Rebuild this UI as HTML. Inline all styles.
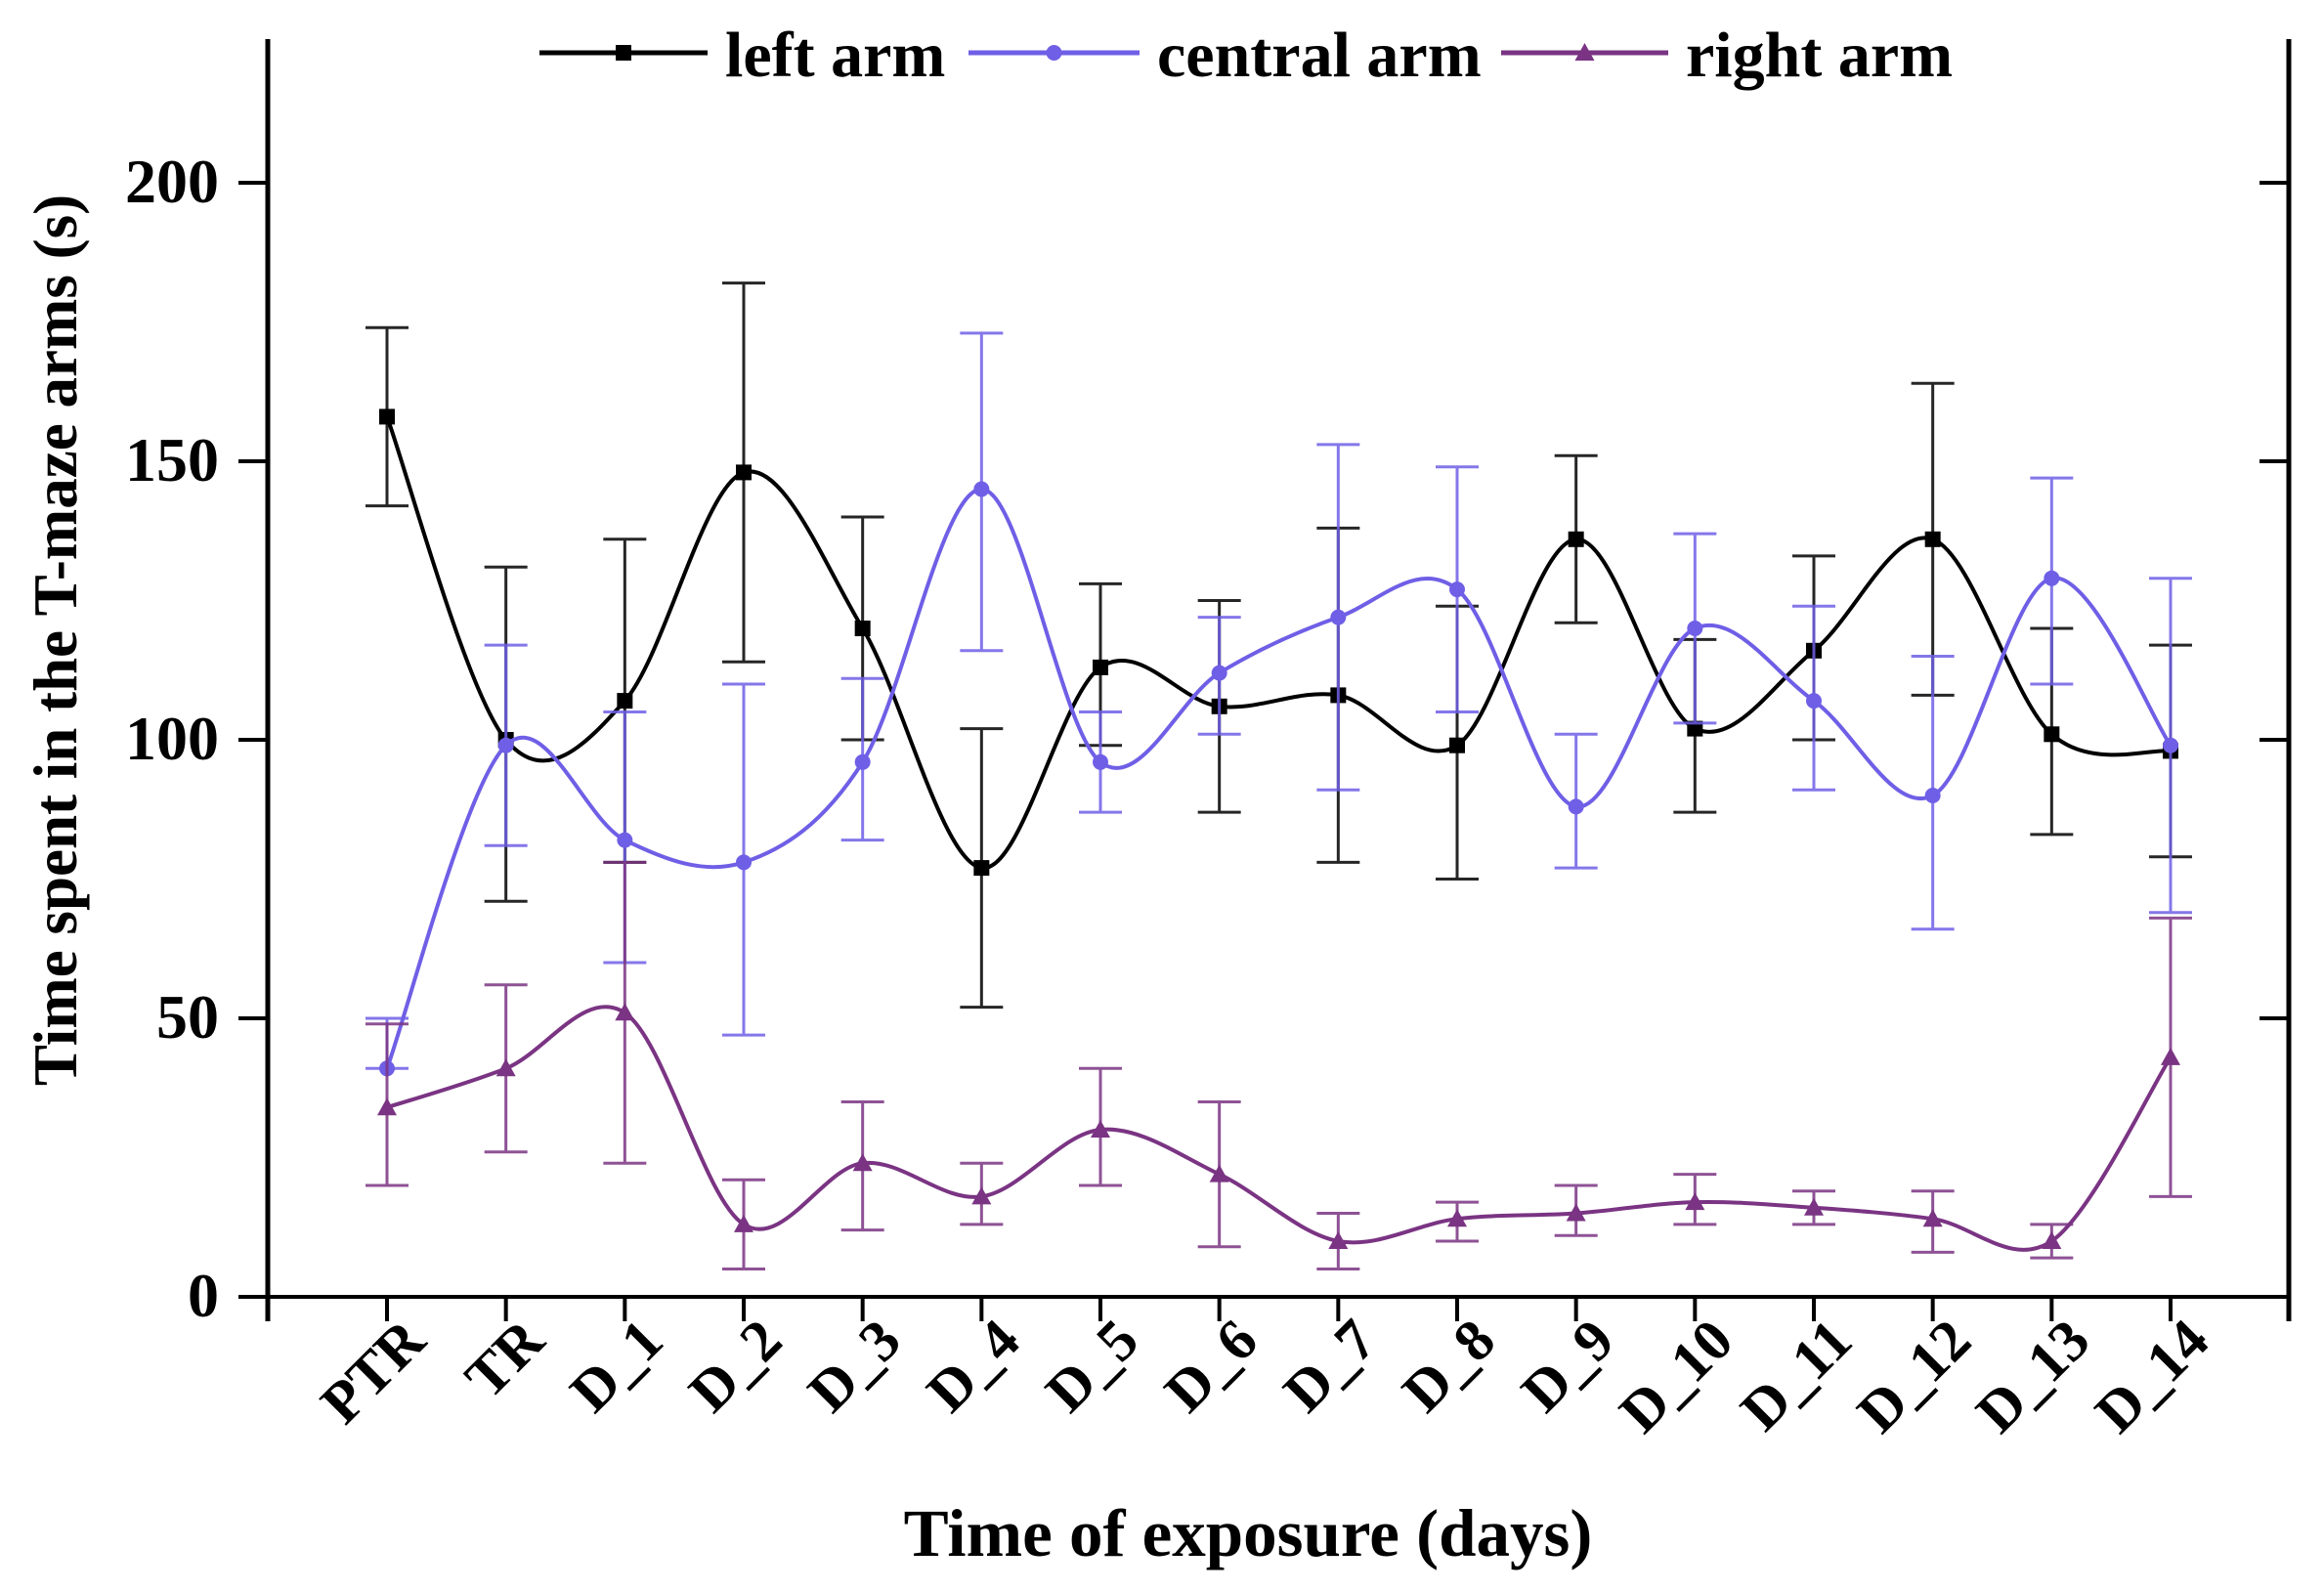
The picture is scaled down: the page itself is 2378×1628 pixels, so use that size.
<!DOCTYPE html>
<html><head><meta charset="utf-8"><style>
html,body{margin:0;padding:0;background:#fff;}
svg{display:block;}
text{font-family:"Liberation Serif",serif;font-weight:bold;fill:#000;}
</style></head><body>
<svg id="chart" width="2378" height="1628" viewBox="0 0 2378 1628" xmlns="http://www.w3.org/2000/svg">
<g id="axes"></g>
<g id="series"></g>
<g id="legend"></g>
<text transform="translate(78,655) rotate(-90)" text-anchor="middle" font-size="63">Time spent in the T-maze arms (s)</text>
<text x="1277" y="1592" text-anchor="middle" font-size="69">Time of exposure (days)</text>
</svg>
<script>
const categories = ["PTR","TR","D_1","D_2","D_3","D_4","D_5","D_6","D_7","D_8","D_9","D_10","D_11","D_12","D_13","D_14"];
const yTicks = [0,50,100,150,200];
const leftMean = [158,100,107,148,120,77,113,106,108,99,136,102,116,136,101,98];
const leftLow  = [142,71,78,114,100,52,99,87,78,75,121,87,100,108,83,79];
const leftHigh = [174,131,136,182,140,102,128,125,138,124,151,118,133,164,120,117];
const centralMean = [41,99,82,78,96,145,96,112,122,127,88,120,107,90,129,99];
const centralLow  = [41,81,60,47,82,116,87,101,91,105,77,103,91,66,110,69];
const centralHigh = [50,117,105,110,111,173,105,122,153,149,101,137,124,115,147,129];
const rightMean = [34,41,51,13,24,18,30,22,10,14,15,17,16,14,10,43];
const rightLow  = [20,26,24,5,12,13,20,9,5,10,11,13,13,8,7,18];
const rightHigh = [49,56,78,21,35,24,41,35,15,17,20,22,19,19,13,68];

const NS="http://www.w3.org/2000/svg";
const X0=396, DX=(2221-396)/15, Y0=1327, PER=285/50;
const xs=i=>X0+i*DX, ys=v=>Y0-v*PER;
function mk(tag,attrs,parent){const e=document.createElementNS(NS,tag);for(const k in attrs)e.setAttribute(k,attrs[k]);parent.appendChild(e);return e;}

const axes=document.getElementById('axes');
let e;
e=mk('line',{x1:274,y1:40,x2:274,y2:1352,stroke:'#000','stroke-width':5},axes);


e=mk('line',{x1:2342,y1:40,x2:2342,y2:1352,stroke:'#000','stroke-width':5},axes);


e=mk('line',{x1:272,y1:Y0,x2:2344,y2:Y0,stroke:'#000','stroke-width':4},axes);


yTicks.forEach(v=>{
  const y=ys(v);
  e=mk('line',{x1:244,y1:y,x2:274,y2:y,stroke:'#000','stroke-width':4},axes);
  
  
  if(v>0){
  e=mk('line',{x1:2312,y1:y,x2:2342,y2:y,stroke:'#000','stroke-width':4},axes);
  
  }
  e=mk('text',{x:224,y:y+20,'text-anchor':'end','font-size':64},axes);
  e.textContent=v;
  
  
});
categories.forEach((c,i)=>{
  const x=xs(i);
  e=mk('line',{x1:x,y1:Y0,x2:x,y2:1352,stroke:'#000','stroke-width':4},axes);
  
  
  e=mk('text',{transform:`translate(${x+42},${1375}) rotate(-45)`,'text-anchor':'end','font-size':60},axes);
  e.textContent=c;
  
  
});

function smooth(pts){
  let d=`M${pts[0][0]},${pts[0][1]}`;
  for(let i=0;i<pts.length-1;i++){
    const p0=pts[Math.max(0,i-1)],p1=pts[i],p2=pts[i+1],p3=pts[Math.min(pts.length-1,i+2)];
    const c1=[p1[0]+(p2[0]-p0[0])/6,p1[1]+(p2[1]-p0[1])/6];
    const c2=[p2[0]-(p3[0]-p1[0])/6,p2[1]-(p3[1]-p1[1])/6];
    d+=` C${c1[0]},${c1[1]} ${c2[0]},${c2[1]} ${p2[0]},${p2[1]}`;
  }
  return d;
}
function marker(kind,x,y,color,parent){
  if(kind==='square') return mk('rect',{x:x-8,y:y-8,width:16,height:16,fill:color},parent);
  if(kind==='circle') return mk('circle',{cx:x,cy:y,r:8,fill:color},parent);
  return mk('polygon',{points:`${x},${y-10} ${x+10},${y+8} ${x-10},${y+8}`,fill:color},parent);
}
const seriesG=document.getElementById('series');
const defs=[
  {name:'left-arm',mean:leftMean,lo:leftLow,hi:leftHigh,color:'#000000',m:'square'},
  {name:'central-arm',mean:centralMean,lo:centralLow,hi:centralHigh,color:'#6f5fe6',m:'circle'},
  {name:'right-arm',mean:rightMean,lo:rightLow,hi:rightHigh,color:'#7a3483',m:'triangle'}
];
defs.forEach(s=>{
  const g=mk('g',{},seriesG);
  
  
  s.mean.forEach((v,i)=>{
    const x=xs(i);
    const eb=mk('path',{d:`M${x},${ys(s.lo[i])}V${ys(s.hi[i])}M${x-22},${ys(s.lo[i])}H${x+22}M${x-22},${ys(s.hi[i])}H${x+22}`,stroke:s.color,'stroke-width':3,fill:'none',opacity:0.85},g);
    
    
  });
  const ln=mk('path',{d:smooth(s.mean.map((v,i)=>[xs(i),ys(v)])),stroke:s.color,'stroke-width':4,fill:'none'},g);
  
  
  s.mean.forEach((v,i)=>{
    const p=marker(s.m,xs(i),ys(v),s.color,g);
    
    
  });
});
const lg=document.getElementById('legend');
const legendItems=[[552,724,'left arm'],[991,1166,'central arm'],[1536,1707,'right arm']];
defs.forEach((s,k)=>{
  const [a,b,t]=legendItems[k];
  const g=mk('g',{},lg);
  
  
  mk('line',{x1:a,y1:54,x2:b,y2:54,stroke:s.color,'stroke-width':5},g);
  marker(s.m,(a+b)/2,54,s.color,g);
  const tx=mk('text',{x:b+18,y:78,'font-size':66},g);
  tx.textContent=t;
});
</script>
</body></html>
